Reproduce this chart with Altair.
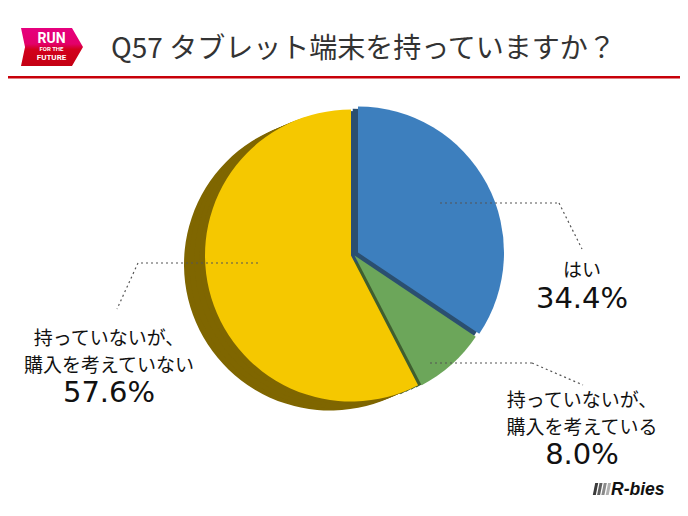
import math
import altair as alt
import pandas as pd

# ---------------- data ----------------
categories = ["はい", "持っていないが、\n購入を考えている", "持っていないが、\n購入を考えていない"]
values = [34.4, 8.0, 57.6]
title_text = "Q57 タブレット端末を持っていますか？"

# ---------------- styles ----------------
front_colors = ["#3d7fbe", "#6ca65a", "#f5c800"]
side_colors = ["#2b4f70", "#3f5e2f", "#7f6600"]

W, H = 672, 500
M = 8  # page margin


def px(v):
    return v - M


df = pd.DataFrame({"cat": categories, "value": values, "order": list(range(len(values)))})

base = (
    alt.Chart(df)
    .transform_window(cum="sum(value)", sort=[alt.SortField("order")], frame=[None, 0])
    .transform_joinaggregate(total="sum(value)")
    .transform_calculate(
        t0="(datum.cum - datum.value) / datum.total",
        t1="datum.cum / datum.total",
        pct="format(datum.value, '.1f') + '%'",
    )
)

theta_scale = alt.Scale(domain=[0, 1], range=[0, 2 * math.pi])
R = 146
# centers (page coords) of the front face of each slice
centers = [(358, 252.5), (354.5, 255.5), (351, 255.5)]
shadow_off = (-21, 9)


def slice_layer(i, color, cx, cy):
    return (
        base.transform_filter(alt.datum.order == i)
        .mark_arc(radius=R, color=color, stroke=None)
        .encode(
            theta=alt.Theta("t0:Q", scale=theta_scale),
            theta2="t1:Q",
            x=alt.value(px(cx)),
            y=alt.value(px(cy)),
        )
    )


layers = []
# extruded side (several copies to fill the sweep)
for t in [1.0, 0.75, 0.5, 0.25]:
    for i in [2, 1, 0]:
        cx, cy = centers[i]
        layers.append(slice_layer(i, side_colors[i], cx + t * shadow_off[0], cy + t * shadow_off[1]))
# front faces
for i in [2, 1, 0]:
    cx, cy = centers[i]
    layers.append(slice_layer(i, front_colors[i], cx, cy))

dummy = alt.Data(values=[{}])


def rule(x1, y1, x2, y2, color="#555555", width=1.2, dash=(2, 3)):
    return (
        alt.Chart(dummy)
        .mark_rule(color=color, strokeWidth=width, strokeDash=list(dash) if dash else [1, 0])
        .encode(
            x=alt.value(px(x1)), y=alt.value(px(y1)),
            x2=alt.value(px(x2)), y2=alt.value(px(y2)),
        )
    )


# leader lines
layers += [
    rule(440, 203, 559, 203), rule(559, 203, 582, 249),
    rule(258, 263, 138, 263), rule(138, 263, 117, 309),
    rule(430, 363, 532, 363), rule(532, 363, 583, 385),
]

# labels: (x center, first-line baseline, percent baseline)
label_pos = [(582, 277, 308), (582, 407, 464), (109, 345, 402)]
for i, (lx, ly, py) in enumerate(label_pos):
    sel = base.transform_filter(alt.datum.order == i)
    layers.append(
        sel.mark_text(
            font="Noto Sans CJK JP", fontSize=19, color="#111111", align="center",
            baseline="alphabetic", lineBreak="\n", lineHeight=26.5,
        ).encode(text="cat:N", x=alt.value(px(lx)), y=alt.value(px(ly)))
    )
    layers.append(
        sel.mark_text(
            font="DejaVu Sans", fontSize=29, color="#111111", align="center",
            baseline="alphabetic",
        ).encode(text="pct:N", x=alt.value(px(lx)), y=alt.value(px(py)))
    )

# header red line
layers.append(rule(M, 77.3, W + M, 77.3, color="#c8000a", width=2.6, dash=None))

# title
layers.append(
    alt.Chart(dummy)
    .mark_text(font="Noto Sans CJK JP", fontSize=28, color="#333333", align="left", baseline="alphabetic")
    .encode(text=alt.value(title_text), x=alt.value(px(111)), y=alt.value(px(58)))
)

# badge logo
badge_path = "M -1 -0.613 L 0.645 -0.613 L 1 0 L 0.645 0.613 L -1 0.613 L -0.87 0 Z"
badge_fill = alt.Gradient(
    gradient="linear",
    stops=[
        alt.GradientStop(color="#e6007e", offset=0),
        alt.GradientStop(color="#e3006a", offset=0.42),
        alt.GradientStop(color="#d2001c", offset=0.56),
        alt.GradientStop(color="#c40012", offset=1),
    ],
    x1=0, x2=0, y1=0, y2=1,
)
layers.append(
    alt.Chart(dummy)
    .mark_point(shape=badge_path, size=62 * 62, filled=True, fill=badge_fill, strokeWidth=0, opacity=1)
    .encode(x=alt.value(px(52)), y=alt.value(px(47)))
)
for txt, size, y in [("RUN", 14, 43.3), ("FOR THE", 6, 51.2), ("FUTURE", 8, 59.5)]:
    layers.append(
        alt.Chart(dummy)
        .mark_text(font="Roboto", fontWeight="bold", fontSize=size, color="white", align="center",
                   baseline="alphabetic")
        .encode(text=alt.value(txt), x=alt.value(px(51.5)), y=alt.value(px(y)))
    )

# R-bies logo
bar_path = "M -0.05 -1 L 0.45 -1 L 0.05 1 L -0.45 1 Z"
for k, col in enumerate(["#3a3a3a", "#5e5e5e", "#8a8a8a", "#b0b0b0"]):
    layers.append(
        alt.Chart(dummy)
        .mark_point(shape=bar_path, size=144, filled=True, color=col, strokeWidth=0, opacity=1)
        .encode(x=alt.value(px(595.5 + 4.3 * k)), y=alt.value(px(489)))
    )
layers.append(
    alt.Chart(dummy)
    .mark_text(font="Liberation Sans", fontWeight="bold", fontStyle="italic", fontSize=17.5, color="#111111",
               align="left", baseline="alphabetic")
    .encode(text=alt.value("R-bies"), x=alt.value(px(611)), y=alt.value(px(495)))
)

chart = (
    alt.layer(*layers)
    .properties(width=W, height=H, padding=0, autosize=alt.AutoSizeParams(type="none"), background="white")
    .configure_view(stroke=None)
)

chart.save("out.html", embed_options={"renderer": "svg", "actions": False})
